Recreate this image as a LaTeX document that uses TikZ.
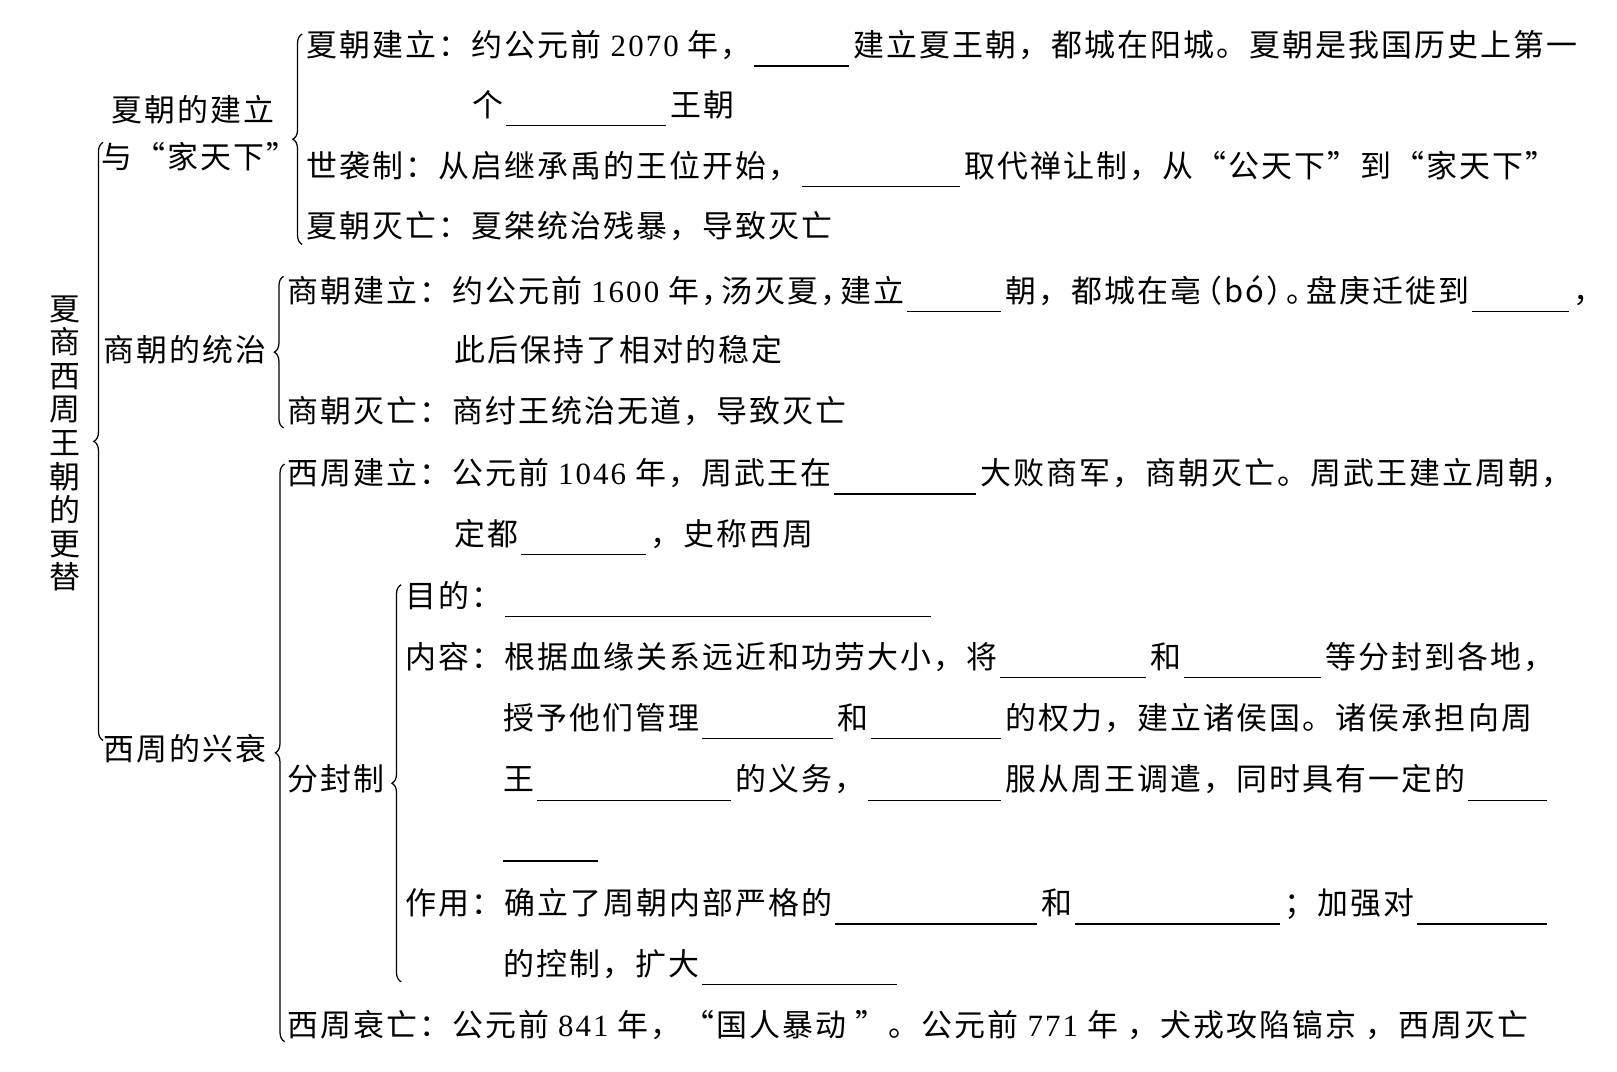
\documentclass[tikz,border=0pt]{standalone}
\usepackage{fontspec}
\usepackage{tikz}
\usetikzlibrary{decorations.pathreplacing}
\setmainfont{Noto Sans CJK SC}[LetterSpace=6.7]
\newfontfamily\numfont{Liberation Serif}[LetterSpace=6.7]
\newcommand\yr[1]{{\numfont #1}}
\newcommand\tight{\kern-.35em}
\tikzset{
  txt/.style={anchor=base west,inner sep=0pt,font=\fontsize{15pt}{16pt}\selectfont},
  fillin/.style={line width=0.6pt},
  brc/.style={decorate,decoration={brace,amplitude=4.5pt},line width=0.6pt}
}

\begin{document}
\begin{tikzpicture}[x=0.5pt,y=-0.5pt]
  \useasboundingbox (0,0) rectangle (1568,1039);
  \node[align=center,inner sep=0pt,font=\fontsize{15pt}{16.25pt}\selectfont] (title) at (63,430) {夏\\商\\西\\周\\王\\朝\\的\\更\\替};
  \draw[brc] (100,718) -- (100,138);
  \draw[brc] (293,237) -- (293,33);
  \draw[brc] (275,415) -- (275,268);
  \draw[brc] (276,1010) -- (276,450);
  \draw[brc] (389,952) -- (389,567);
  % second level
  \node[txt] (xiaA) at (108,118) {夏朝的建立};
  \node[txt] (xiaB) at (98,163) {与“家天下”};
  \node[txt] (shang) at (100,351) {商朝的统治};
  \node[txt] (zhou) at (100,737) {西周的兴衰};
  \node[txt] (fenfeng) at (278,767) {分封制};
  % rows
  \node[txt] (r1a) at (297,55) {夏朝建立：约公元前 \yr{2070} 年，};
  \node[txt] (r1b) at (827,55) {建立夏王朝，都城在阳城。夏朝是我国历史上第一};
  \node[txt] (r2a) at (458,113) {个};
  \node[txt] (r2b) at (650,113) {王朝};
  \node[txt] (r3a) at (297,172) {世袭制：从启继承禹的王位开始，};
  \node[txt] (r3b) at (935,172) {取代禅让制，从“公天下”到“家天下”};
  \node[txt] (r4) at (297,230) {夏朝灭亡：夏桀统治残暴，导致灭亡};
  \node[txt] (r5a) at (278,293) {商朝建立：约公元前 \yr{1600} 年，\tight 汤灭夏，\tight 建立};
  \node[txt] (r5b) at (975,293) {朝，都城在亳\tight（bó）\tight。\tight 盘庚迁徙到};
  \node[txt] (r5c) at (1525,293) {，};
  \node[txt] (r6) at (440,351) {此后保持了相对的稳定};
  \node[txt] (r7) at (278,410) {商朝灭亡：商纣王统治无道，导致灭亡};
  \node[txt] (r8a) at (278,470) {西周建立：公元前 \yr{1046} 年，周武王在};
  \node[txt] (r8b) at (950,470) {大败商军，商朝灭亡。周武王建立周朝，};
  \node[txt] (r9a) at (440,529) {定都};
  \node[txt] (r9b) at (630,529) {，史称西周};
  \node[txt] (r10) at (393,589) {目的：};
  \node[txt] (r11a) at (393,648) {内容：根据血缘关系远近和功劳大小，将};
  \node[txt] (r11b) at (1115,648) {和};
  \node[txt] (r11c) at (1285,648) {等分封到各地，};
  \node[txt] (r12a) at (488,707) {授予他们管理};
  \node[txt] (r12b) at (812,707) {和};
  \node[txt] (r12c) at (975,707) {的权力，建立诸侯国。诸侯承担向周};
  \node[txt] (r13a) at (488,767) {王};
  \node[txt] (r13b) at (713,767) {的义务，};
  \node[txt] (r13c) at (975,767) {服从周王调遣，同时具有一定的};
  \node[txt] (r15a) at (393,887) {作用：确立了周朝内部严格的};
  \node[txt] (r15b) at (1010,887) {和};
  \node[txt] (r15c) at (1245,887) {；加强对};
  \node[txt] (r16) at (488,946) {的控制，扩大};
  \node[txt] (r17) at (278,1005) {西周衰亡：公元前 \yr{841} 年，“国人暴动 ”。公元前 \yr{771} 年 ，犬戎攻陷镐京 ，西周灭亡};
  \coordinate (e10) at (903,598);
  \coordinate (e13) at (1500,776);
  \coordinate (s14) at (488,835);
  \coordinate (e14) at (580,835);
  \coordinate (e15) at (1500,896);
  \coordinate (e16) at (870,955);
  % blanks
  \foreach \a/\b in {r1a/r1b,r2a/r2b,r3a/r3b,r5a/r5b,r5b/r5c,r8a/r8b,r9a/r9b,r11a/r11b,r11b/r11c,r12a/r12b,r12b/r12c,r13a/r13b,r13b/r13c,r15a/r15b,r15b/r15c}
    \draw[fillin] ([shift={(2,9)}]\a.base east) -- ([shift={(-4,9)}]\b.base west);
  \draw[fillin] ([shift={(2,9)}]r10.base east) -- (e10);
  \draw[fillin] ([shift={(2,9)}]r13c.base east) -- (e13);
  \draw[fillin] (s14) -- (e14);
  \draw[fillin] ([shift={(2,9)}]r15c.base east) -- (e15);
  \draw[fillin] ([shift={(2,9)}]r16.base east) -- (e16);
\end{tikzpicture}
\end{document}
